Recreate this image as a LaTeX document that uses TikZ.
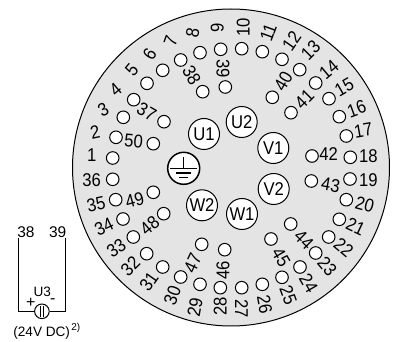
\documentclass[tikz,border=0pt]{standalone}
\usepackage{fontspec}
\setmainfont{Liberation Sans}
\newfontfamily\tallfont[FakeStretch=0.9]{Liberation Sans}
\definecolor{discgray}{HTML}{E4E4E4}
\tikzset{
  pin/.style={circle,draw=black,fill=white,line width=1pt,minimum size=12.6pt,inner sep=0pt},
  phase/.style={circle,draw=black,fill=white,line width=1pt,minimum size=31pt,inner sep=0pt,font=\tallfont\fontsize{18.5}{18.5}\selectfont},
  lab/.style={inner sep=0pt,font=\tallfont\fontsize{18.5}{19}\selectfont},
  small/.style={inner sep=0pt,font=\fontsize{15.5}{16}\selectfont},
  tiny/.style={inner sep=0pt,font=\fontsize{13.6}{14}\selectfont},
  sign/.style={inner sep=0pt,font=\fontsize{16}{16}\selectfont},
  wire/.style={line width=1pt},
  gnd/.style={line width=1.5pt}
}
\begin{document}
\begin{tikzpicture}[x=1pt,y=-1pt]
\useasboundingbox (0,0) rectangle (400,342);
\node[circle,draw=black,fill=discgray,line width=1pt,minimum size=317pt,inner sep=0pt] (disc) at (231,167.5) {};
\foreach \n/\x/\y in {
 1/112.7/158, 2/116/137.3, 3/123.3/117.3, 4/133.7/99.7, 5/147/83.3, 6/162.7/70.3, 7/180.7/60, 8/200/52.7,
 9/220.7/49.3, 10/241.7/48.7, 11/262.3/51.7, 12/282/59.3, 13/299.7/69.7, 14/315.7/83, 15/329/98.7,
 16/339.3/116.7, 17/346.3/136, 18/350.3/157.3, 19/350/179, 20/346.3/199.7, 21/339.3/219.3, 22/328.7/237,
 23/315.7/253, 24/300/267, 25/282/277.3, 26/262.3/284.3, 27/241.7/287.7, 28/220.3/287.7, 29/200/284.3,
 30/180.7/277, 31/162.7/267, 32/146.7/253.7, 33/133.3/237, 34/123/219, 35/115.7/199.7, 36/112.7/179.3,
 37/164/121.7, 38/202.7/91.7, 39/225.3/87, 40/272.3/97.3, 41/291/112.7, 42/312/156, 43/311.3/181,
 44/290.7/224, 45/271/239, 46/224.7/249.7, 47/201.7/244.3, 48/163.7/213.7, 49/153.3/192.3, 50/153.3/143.7}
  {\node[pin] (p\n) at (\x,\y) {};}
\foreach \n/\x/\y/\r in {
 1/91.7/155.3/0, 2/95/132.7/12, 3/103.3/109.3/28, 4/115.7/89.3/40, 5/131.7/70/50, 6/149.7/54.3/58, 7/170.7/40.7/70, 8/192.7/32.7/80,
 9/217.3/28.3/90, 10/243.3/27.3/90, 11/268.3/32.7/70, 12/291.7/41/55, 13/310.7/50/45, 14/329/69.3/40, 15/344.3/87.3/30,
 16/356.7/109/20, 17/363.3/130.7/10, 18/368.3/155.7/0, 19/368.3/180.3/0, 20/364.7/204.3/-15, 21/355.7/227/-25, 22/343.7/248/-40,
 23/327.3/266.7/-50, 24/308.7/283.3/-60, 25/288.3/295/-70, 26/264.7/304.3/-80, 27/241.7/308.7/-90, 28/220.3/306/90, 29/195/307.7/80,
 30/172.3/295.3/70, 31/149/281.7/55, 32/130.3/266/45, 33/116.3/248.3/35, 34/104/226.7/25, 35/96/204.3/12, 36/91.7/180/0,
 37/146.7/111.7/-30, 38/191.7/75/-60, 39/223/68.3/-90, 40/283.3/81.7/60, 41/304.3/99.3/45, 42/328.7/154.3/0, 43/330.7/185.3/-10,
 44/304/240/-45, 45/281/257.7/-60, 46/223/270/90, 47/192.7/263.3/65, 48/149.7/226/40, 49/134.7/200.3/15, 50/133.7/140.7/-5}
  {\node[lab,rotate=\r] (l\n) at (\x,\y) {\n};}
\node[phase] (U1) at (204,134) {U1};
\node[phase] (U2) at (241.7,122) {U2};
\node[phase] (V1) at (273.3,148) {V1};
\node[phase] (V2) at (273.7,189) {V2};
\node[phase] (W1) at (242,214) {W1};
\node[phase] (W2) at (202,205.3) {W2};
% protective earth
\node[circle,draw=black,fill=white,gnd,minimum size=32pt,inner sep=0pt] (pe) at (183.7,168.3) {};
\draw[gnd] (183.7,157.3) -- (183.7,168.3);
\draw[gnd] (170,168.3) -- (197.3,168.3);
\draw[gnd] (176,173) -- (191.3,173);
\draw[gnd] (179,177.3) -- (188.3,177.3);
% U3 supply
\node[small] (t38) at (26,232) {38};
\node[small] (t39) at (57.7,232) {39};
\node[tiny] (tu3) at (42.3,291.7) {U3};
\node[sign] (plus) at (30.7,302.7) {+};
\node[sign] (minus) at (52.7,301.5) {-};
\node[circle,draw=black,fill=white,line width=1pt,minimum size=14.6pt,inner sep=0pt] (src) at (41.9,311.3) {};
\draw[wire] (src.west) -- ++(-15.2,0) coordinate (cl) -- (cl |- t38.south);
\draw[wire] (src.east) -- ++(15.8,0) coordinate (cr) -- (cr |- t39.south);
\draw[wire] (40,306) -- (40,316.7);
\draw[wire] (43.7,306) -- (43.7,316.7);
\node[tiny] (vdc) at (41.7,332.7) {(24V DC)};
\node[inner sep=0pt,font=\fontsize{10}{10}\selectfont] (note) at (75.7,328) {2)};
\end{tikzpicture}
\end{document}
